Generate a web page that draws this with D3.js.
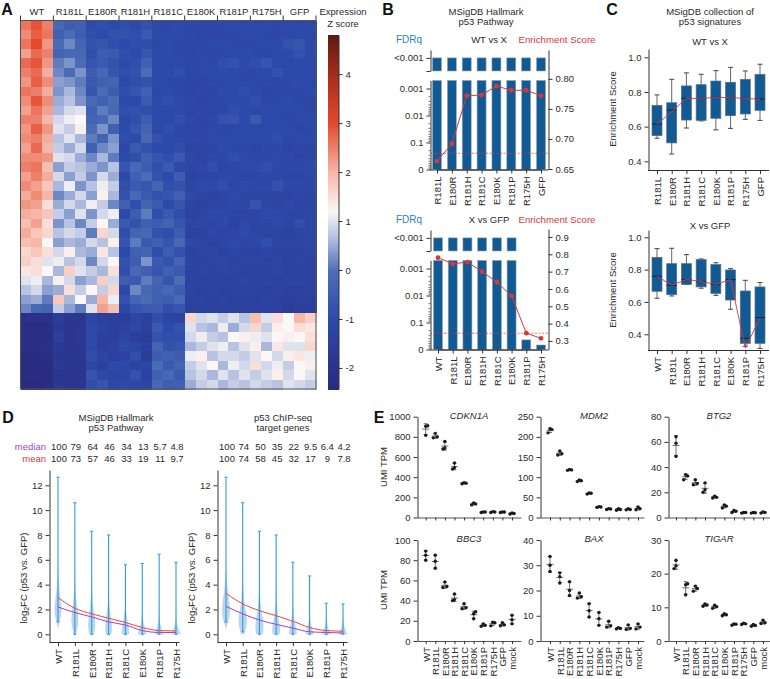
<!DOCTYPE html>
<html>
<head>
<meta charset="utf-8">
<script src="https://cdn.jsdelivr.net/npm/d3@7"></script>
<style>
  html,body{margin:0;padding:0;background:#fff}
  svg{display:block}
  text{font-family:"Liberation Sans",Arial,sans-serif;fill:#2a2a2a}
  .axis path,.axis line{stroke:#333;stroke-width:1}
  .axis text{font-size:9.5px;fill:#2a2a2a;font-family:"Liberation Sans",Arial,sans-serif}
</style>
</head>
<body>
<svg id="fig" width="770" height="679"></svg>
<script>
const heatGroups = ["WT","R181L","E180R","R181H","R181C","E180K","R181P","R175H","GFP"]
const zTicks = [4,3,2,1,0,-1,-2]

// heatmap rows, top block then bottom block (27 columns, 3 per group)
const heatTop = [
[2.6,2.9,2.5,-.2,-.5,-.4,-1,-.9,-1,-.9,-1,-.8,-1.1,-1.1,-1,-1.1,-1.1,-1.1,-1.1,-1,-1.1,-1.1,-1,-1.1,-1,-1.1,-1],
[2.4,2.8,2.6,-.4,-.1,-.5,-.9,-1,-.8,-.8,-.9,-.6,-1,-1.1,-1,-1.1,-1.2,-1.1,-1.1,-1.1,-1,-1,-1.1,-1.1,-1.1,-1,-1.1],
[2.6,3,2.3,-.1,.2,-.3,-.8,-.7,-.9,-1,-.9,-.9,-1.1,-1,-1.1,-1.1,-1.1,-1,-1,-1.1,-1.1,-1.1,-1,-1,-.8,-.7,-1],
[2.2,2.7,2.5,-.3,-.2,-.2,-.9,-.5,-.6,-.9,-1,-.7,-1,-1,-1.1,-1.2,-1.1,-1.1,-1.1,-1,-1,-1.1,-1.1,-1,-1,-.8,-1],
[2.7,2.9,2.3,.1,.3,-.1,-.7,-.6,-.8,-1,-.9,-.4,-1.1,-1.1,-1,-1.1,-1,-1.1,-.9,-.8,-1,-.9,-.7,-1,-1.1,-1,-1.1],
[2.5,2.7,2.1,.2,-.1,.3,-.5,-.2,-.7,-.9,-.8,-.1,-1,-1,-.9,-1.2,-1.1,-1,-1,-1.1,-1.1,-1.1,-1,-.8,-1,-1.1,-1],
[2.3,2.8,2.4,.4,.3,.1,-.6,-.4,-.3,-1.1,-.9,-.8,-1,-1.1,-1.1,-1.2,-1.2,-1.1,-1.1,-1,-1.1,-1.1,-1.1,-1.1,-1.1,-1,-1.1],
[2.6,2.5,2.1,.3,.6,.2,-.7,-.1,-.5,-.9,-.7,-.4,-1.1,-1,-1.1,-1.2,-1.1,-1.2,-1,-1.1,-.9,-1,-1.2,-1.1,-1.1,-1.1,-1],
[2.4,2.9,2.4,.5,.7,.3,-.2,-.4,-.1,-1,-1,-.6,-1,-.9,-1,-1.1,-1.2,-1.1,-1.1,-1,-1,-.9,-1.1,-1.1,-1,-1.1,-1.1],
[2.2,2.6,2.2,.6,.9,1,-.4,.1,-.2,-.9,-.8,-.9,-1.1,-1.1,-1,-1.2,-1.1,-1.2,-1.1,-.9,-1,-1.1,-1,-1,-1.1,-1,-1.1],
[2.5,2.5,2,.9,1.1,1.2,-.3,-.2,.2,-1.1,-.9,-.5,-1,-1,-.9,-1.1,-1.2,-1.1,-.8,-.7,-1,-.6,-1,-1.1,-1.1,-1.1,-1],
[2.3,2.8,2.3,1,.8,1.3,-.1,.3,-.4,-1,-.7,-.3,-1.1,-.9,-1.1,-1.2,-1.2,-1.1,-1.1,-1.1,-1.1,-1.1,-1.1,-1,-1,-1.2,-1.1],
[2.4,2.5,2.1,.7,1,.6,.1,-.3,.3,-.9,-1,-.2,-.8,-1,-1.1,-1.1,-1.1,-1,-1.1,-1,-1,-1,-1,-.9,-1.1,-1,-1],
[2.2,2.7,2,.8,.5,.9,-.4,.2,.4,-1.1,-.6,-.8,-1,-1.1,-.9,-1.2,-1.2,-1.2,-1,-1.1,-1.1,-1.2,-1.1,-1.1,-1.2,-1.1,-1.2],
[2.4,2.4,2.3,1,.9,.5,.2,.6,.1,-1,-.9,-.4,-.7,-.9,-.6,-1.1,-1.2,-1.1,-1.1,-.9,-1,-1.1,-1.1,-1,-1.1,-1.2,-1.1],
[2.5,2.6,1.9,.4,.8,.7,.5,.3,.7,-.7,-.2,-.5,-.9,-.6,-1,-1.2,-1.1,-.9,-1.2,-1.1,-1.1,-1,-.9,-1.1,-1.1,-1.1,-1],
[2.2,2.5,2.1,.9,.4,.8,.3,.9,.5,-1.1,-.4,-.1,-.8,-1,-.5,-1.3,-1.2,-1.2,-1.1,-1.1,-1.2,-1.2,-1.1,-1.1,-1.2,-1.2,-1.1],
[2.4,2.2,1.8,.6,1.1,.3,.7,1.1,.8,-.9,-.6,-.7,-.3,-.9,-.8,-1.2,-1,-1.1,-.9,-1.2,-1,-1.1,-1.1,-.8,-1.1,-1.1,-1.1],
[2.1,2.4,2,.2,.5,.9,.4,1.3,.6,-.8,-.2,-.6,-.8,-.7,-.4,-1,-1.2,-1.3,-1.2,-1,-1.2,-1.2,-1.2,-1.2,-1.2,-1.1,-1.2],
[2.3,2.2,1.5,.5,.9,.6,1.1,.8,.2,-.4,-.9,-.3,-.6,-1,-.7,-1.2,-1.3,-1.2,-1.2,-1.1,-1.1,-.7,-1.1,-1.2,-1.1,-1.2,-1.2],
[2.1,2,1.8,.8,.4,1,.3,.9,1.1,-1,-.5,.1,-.9,-.6,-.9,-1.3,-1.2,-1.1,-1.1,-1.2,-1.2,-1.2,-1,-1.1,-1.2,-1.2,-1.1],
[1.9,2.2,1.5,.3,.7,.2,.8,1.2,.5,-.6,-.8,-.4,-.5,-.3,-.7,-1.2,-1.1,-1.2,-1,-1.3,-1.1,-1.2,-1.2,-1,-1.2,-.9,-1.2],
[2.1,1.8,1.6,.7,.9,.8,.1,1.6,.9,-.9,-.3,-.2,-.8,-.9,-.5,-1.3,-1.3,-1.1,-1.2,-1.2,-1,-1.2,-1.2,-1.2,-1.3,-1.2,-1.2],
[1.9,2,1.2,.4,.6,.5,.9,.7,1.3,-.7,.1,-.6,-.4,-.7,-.2,-1.1,-1.2,-1.3,-1.2,-1,-1.2,-1.1,-.9,-1.2,-1.2,-1.2,-1.1],
[1.6,1.8,1.5,.9,1.3,.6,.5,1.4,.7,-1,-.4,-.3,-.9,-.5,-.8,-1.3,-1.2,-1.2,-1.3,-1.2,-1.3,-1.3,-1.2,-1.3,-1.3,-1.3,-1.2],
[1.7,1.5,1,1.1,.7,.9,.2,.9,1.2,-.8,-.5,.3,-.6,-.8,-.3,-1.2,-1.3,-1.2,-1.1,-1.3,-1.2,-1.2,-1.3,-1.2,-1.3,-1.2,-1.3],
[1.4,1.5,1.2,.6,1.7,1,.8,.6,1.5,-.9,-.2,-.4,-.7,-.4,-.6,-1.3,-1.2,-1.3,-1.2,-1.2,-1.3,-1.3,-1.3,-1.2,-1.3,-1.3,-1.3],
[1,1.1,.6,1.3,.9,.4,.6,1.7,.9,-.5,-.6,.1,-.3,-.7,-.1,-1.3,-1.3,-1.3,-1.3,-1.3,-1.2,-1.3,-1.3,-1.3,-1.3,-1.3,-1.3],
[.7,.9,.4,.5,1.5,.8,1.2,.8,1.6,-1,.2,-.2,-.4,-.2,-.5,-1.3,-1.4,-1.3,-1.4,-1.3,-1.3,-1.3,-1.4,-1.3,-1.4,-1.4,-1.3],
[.4,.5,.1,1.8,.6,1.2,.5,2,1.1,-.8,-.3,-.1,-.4,-.5,-.2,-1.3,-1.3,-1.4,-1.3,-1.4,-1.4,-1.4,-1.3,-1.4,-1.5,-1.4,-1.4],
[.2,-.2,-.3,.8,.4,.1,1,2.2,1.9,-1.1,-.7,-.6,-.5,-.9,-.7,-1.4,-1.4,-1.4,-1.4,-1.4,-1.4,-1.4,-1.4,-1.4,-1.6,-1.5,-1.5]
]
const heatBottom = [
[-2.1,-2.1,-2.1,-1.6,-1.8,-1.8,-1.2,-1.4,-1.4,-1.5,-1.2,-1.4,-.9,-1.2,-1.3,1.6,.9,1,.8,1,.7,1.9,1,1.5,1.2,2,1.7],
[-2.2,-2.2,-2.2,-1.7,-1.9,-1.8,-1,-1.3,-1.5,-1.3,-1.1,-1.4,-.6,-1,-.8,1,.7,.6,1.1,.5,.9,1.6,.8,1.3,1.2,1.5,1.4],
[-2.2,-2.2,-2.2,-1.5,-1.9,-1.7,-1.1,-1.4,-1.5,-1.2,-1.5,-1.6,-.8,-.9,-.9,.9,1.1,.8,.7,1.2,1.3,1.1,1,1.2,1.3,1.2,1.5],
[-2.2,-2.2,-2.1,-1.7,-1.8,-1.8,-1,-1.5,-1.3,-1,-1.2,-1.4,-.3,-.8,-.7,.6,.8,1,1.1,.7,1,1.3,.6,1.4,1,1,1.6],
[-2.3,-2.3,-2.2,-1.8,-1.9,-1.9,-.9,-1.2,-1.4,-1.3,-.9,-1.6,-.5,-.4,-.5,1.1,1.3,.7,.9,.9,.8,1,1.2,.9,1.3,1.4,1.1],
[-2.3,-2.3,-2.3,-1.7,-1.8,-1.8,-1.2,-1.4,-1,-1.1,-1.3,-1.2,-.1,-.6,-.3,.8,1,1.2,.6,1.1,.9,1.5,.9,1.1,.8,1.2,1.3],
[-2.3,-2.3,-2.3,-1.9,-1.9,-1.9,-.7,-1.1,-1.2,-1.2,-.8,-1.3,-.4,-.2,-.6,.7,.9,.6,1,.7,1,.8,1,1.3,.9,1.2,1],
[-2.4,-2.4,-2.3,-1.8,-1.9,-1.9,-.9,-.7,-1.1,-1,-1.1,-1.2,-.2,-.5,-.4,.5,.8,.9,.6,.8,.7,.9,.8,.7,1,.9,.8]
]
const heatRows = heatTop.concat(heatBottom)

// panel B
const catsWtX = ["R181L","E180R","R181H","R181C","E180K","R181P","R175H","GFP"]
const catsXGfp = ["WT","R181L","E180R","R181H","R181C","E180K","R181P","R175H"]
const fdrWtX = [0.0005,0.0005,0.0005,0.0005,0.0005,0.0005,0.0005,0.0005]
const fdrXGfp = [0.0005,0.0005,0.0005,0.0005,0.0005,0.0005,0.44,0.68]
const esWtX = [.663,.692,.772,.773,.788,.781,.781,.772]
const esXGfp = [.78,.745,.755,.70,.64,.56,.345,.315]

// panel C: [low, q1, median, q3, high]
const boxWtX = [[.533,.548,.615,.723,.783],[.442,.506,.696,.738,.873],[.592,.638,.763,.835,.91],[.633,.636,.763,.842,.902],
  [.581,.648,.769,.863,.923],[.59,.663,.767,.856,.942],[.642,.673,.763,.873,.921],[.636,.694,.76,.902,.96]]
const boxXGfp = [[.623,.666,.759,.876,.93],[.637,.645,.703,.837,.932],[.709,.709,.738,.837,.893],[.685,.693,.726,.862,.866],
  [.641,.652,.709,.831,.843],[.555,.612,.738,.798,.806],[.326,.344,.375,.668,.734],[.313,.344,.503,.693,.72]]
const lineWtX = [.615,.685,.763,.763,.769,.767,.763,.758]
const lineXGfp = [.76,.703,.74,.726,.709,.738,.315,.5]

// panel D
const medianHallmark = ["100","79","64","46","34","13","5.7","4.8"]
const meanHallmark = ["100","73","57","46","33","19","11","9.7"]
const medianChip = ["100","74","50","35","22","9.5","6.4","4.2"]
const meanChip = ["100","74","58","45","32","17","9","7.8"]
const highHallmark = [12.65,10.6,8.3,8.0,5.6,5.7,6.45,5.8]
const lowHallmark = [1,0,0,0,0,0,0,0]
const highChip = [12.65,10.6,8.3,8.0,5.8,4.7,2.5,2.45]
const lowChip = [1,.2,0,0,0,0,0,0]
const medLineHallmark = [2.2,1.75,1.4,1.0,.75,.3,.15,.15]
const meanLineHallmark = [2.95,2.1,1.65,1.3,.95,.55,.3,.27]
const medLineChip = [2.25,1.65,1.15,.8,.5,.2,.15,.1]
const meanLineChip = [3.3,2.45,1.9,1.5,1.05,.55,.3,.25]
const violinLevels = [0,.5,1,1.5,2,2.5,3,4,5,6]
const violinHallmark = [
  [0,0,.35,.7,.8,.7,.5,.2,.05,0],[.25,.6,.8,.75,.6,.4,.25,.1,0,0],[.55,.8,.8,.65,.4,.25,.15,.05,0,0],[.6,.8,.7,.5,.3,.15,.1,.05,0,0],
  [.8,.8,.5,.3,.15,.1,.05,0,0,0],[1,.6,.25,.1,.05,.03,0,0,0,0],[1,.5,.15,.05,.03,0,0,0,0,0],[1,.5,.15,.05,.03,0,0,0,0,0]]
const violinChip = [
  [0,0,.5,.85,.9,.8,.6,.25,.05,0],[.3,.8,1,.85,.6,.4,.25,.1,0,0],[.7,.95,.85,.6,.4,.25,.15,.05,0,0],[.8,.9,.65,.4,.25,.15,.1,0,0,0],
  [.9,.75,.4,.2,.1,.05,.03,0,0,0],[1,.5,.2,.08,.03,0,0,0,0,0],[1,.4,.1,.03,0,0,0,0,0,0],[1,.35,.08,.03,0,0,0,0,0,0]]

// panel E, three replicates per condition
const geneCats = ["WT","R181L","E180R","R181H","R181C","E180K","R181P","R175H","GFP","mock"]
const cdkn1a = [[815,905,910],[790,800,835],[680,690,755],[480,495,540],[335,340,345],[125,135,145],[50,55,55],[50,55,58],[50,55,55],[35,40,45]]
const mdm2 = [[210,218,220],[155,158,165],[117,118,119],[89,91,93],[58,60,61],[25,26,27],[20,21,22],[18,20,22],[19,20,22],[19,22,26]]
const btg2 = [[48.5,59,64],[30,33,34],[26,27,30],[20,22,27.5],[15.5,16,17],[7.5,9,10],[4,5,5.5],[3.5,4,4],[3.5,3.8,4],[3.5,4,4.5]]
const bbc3 = [[80,85,89],[72,79,85],[53,54,58.5],[40,41,46.5],[32,33,37],[22,27,29],[14.5,15.5,17],[15,18,18.5],[15,16,18],[17,21,25.5]]
const bax = [[27.5,30,33.5],[23,25.5,27],[18,20,23.5],[17,17.5,19],[9.5,12,14.8],[6.2,8.8,11.3],[5.5,6,7.8],[4.8,5,5.3],[4.6,5,6.4],[4.8,5.5,6.8]]
const tigar = [[21.5,22.3,24],[13.7,16.7,17],[14.8,15.6,16.3],[10.3,10.7,11],[9.7,10.2,10.6],[7.5,7.8,8.1],[4.7,5,5.1],[4.9,5.1,5.3],[4.4,4.6,4.9],[5.2,5.4,6.2]]

const RED = "#d8383c", BAR = "#125a94", LINKBLUE = "#2f7fb8"
const svg = d3.select("#fig")

function label(txt, x, y, opts = {}){
  return svg.append("text").attr("x",x).attr("y",y)
    .attr("text-anchor",opts.anchor || "middle")
    .attr("font-size",opts.size || 9.5)
    .attr("font-weight",opts.weight || null)
    .attr("font-style",opts.style || null)
    .style("fill",opts.fill || "#2a2a2a")
    .text(txt)
}

function yTitle(x, y, txt){
  return svg.append("text").attr("transform",`translate(${x},${y}) rotate(-90)`)
    .attr("text-anchor","middle").attr("font-size",9.5).text(txt)
}

function bottomAxis(scale, y, showLabels = true, size = 4){
  const g = svg.append("g").attr("class","axis").attr("transform",`translate(0,${y})`)
    .call(d3.axisBottom(scale).tickSize(size).tickSizeOuter(0))
  if(showLabels){
    g.selectAll("text").attr("transform","rotate(-90)")
      .attr("x",-size-3).attr("y",0).attr("dy","0.35em").attr("text-anchor","end")
  } else {
    g.selectAll("text").remove()
  }
  return g
}

function leftAxis(scale, x, values, format){
  return svg.append("g").attr("class","axis").attr("transform",`translate(${x},0)`)
    .call(d3.axisLeft(scale).tickValues(values).tickFormat(format || (d=>d)).tickSize(4).tickSizeOuter(0))
}

/* ---------- A: heatmap ---------- */
const zColor = d3.scaleLinear()
  .domain([-2.43,-1,0,.6,1.2,2,3,4,4.8])
  .range(["#2a2a7e","#2d4aaa","#4e6fb6","#aab8de","#fbf7f6","#f6b7a8","#e4492e","#a52c1c","#5f1a10"])

const heatX = d3.scaleBand().domain(d3.range(27)).range([20.5,316])
const heatY = d3.scaleBand().domain(d3.range(heatRows.length)).range([20.5,389])
const heat = svg.append("g").attr("shape-rendering","crispEdges")
heatRows.forEach((row,r)=>{
  heat.selectAll(null).data(row).join("rect")
    .attr("x",(d,i)=>heatX(i)).attr("y",heatY(r))
    .attr("width",heatX.bandwidth()+.5).attr("height",heatY.bandwidth()+.5)
    .attr("fill",d=>zColor(d))
})
svg.append("rect").attr("x",20.5).attr("y",20.5).attr("width",295.5).attr("height",368.5)
  .attr("fill","none").attr("stroke","#555")

const heatGroupX = d3.scaleBand().domain(heatGroups).range([20.5,316])
svg.selectAll(null).data(heatGroups.concat("end")).join("line")
  .attr("x1",d=>d=="end"?316:heatGroupX(d)).attr("x2",d=>d=="end"?316:heatGroupX(d))
  .attr("y1",15.5).attr("y2",20.5).attr("stroke","#333")
heatGroups.forEach(g=>label(g,heatGroupX(g)+heatGroupX.bandwidth()/2,15,{size:9.5}))

label("Expression",343,15,{size:9.5})
label("Z score",343,27,{size:9.5})
const zScale = d3.scaleLinear().domain([-2.43,4.8]).range([389,35])
svg.append("g").attr("shape-rendering","crispEdges").selectAll(null)
  .data(d3.range(35,389)).join("rect")
  .attr("x",327.5).attr("width",11).attr("y",d=>d).attr("height",1.5)
  .attr("fill",d=>zColor(zScale.invert(d)))
svg.append("g").attr("class","axis").attr("transform","translate(338.5,0)")
  .call(d3.axisRight(zScale).tickValues(zTicks).tickFormat(d=>d).tickSize(4).tickSizeOuter(0))
  .call(g=>g.select(".domain").attr("stroke","#888"))

/* ---------- B: FDR bars + ES line ---------- */
function fdrPanel(cats, fdr, es, layout){
  const x = d3.scalePoint().domain(cats).range(layout.xRange)
  const q = d3.scaleLog().domain([1,0.0005]).range([layout.zero,layout.zero-layout.decade*3.3])
  const capped = d3.scaleLinear().domain([0,1.6]).range([layout.capBase,layout.capBase-21])
  const es2y = d3.scaleLinear().domain(layout.esDomain).range(layout.esRange)
  const barW = 9

  label("FDRq",409,layout.head,{size:10,fill:LINKBLUE})
  label(layout.name,489,layout.head,{size:9.5})
  label("Enrichment Score",557,layout.head,{size:9.7,fill:RED})

  svg.selectAll(null).data(cats).join("rect")
    .attr("x",d=>x(d)-barW/2).attr("width",barW)
    .attr("y",(d,i)=>q(fdr[i])).attr("height",(d,i)=>q(1)-q(fdr[i]))
    .attr("fill",BAR).attr("stroke","#9aa7b2").attr("stroke-width",.6)
  svg.selectAll(null).data(cats.filter((d,i)=>fdr[i]<0.001)).join("rect")
    .attr("x",d=>x(d)-barW/2).attr("width",barW)
    .attr("y",capped(1)).attr("height",capped(0)-capped(1))
    .attr("fill",BAR).attr("stroke","#9aa7b2").attr("stroke-width",.6)

  svg.append("line").attr("x1",430).attr("x2",548).attr("y1",q(.25)).attr("y2",q(.25))
    .attr("stroke",RED).attr("stroke-dasharray","2,1.5").attr("stroke-width",.7)

  // left axis in two pieces with a gap
  leftAxis(capped,430.5,[0,1],d=>d==1?"<0.001":"")
  leftAxis(q,430.5,[1,.1,.01,.001],d=>d==1?"0":d)
  const minor = [.2,.3,.4,.5,.6,.7,.8,.9,.02,.03,.04,.05,.06,.07,.08,.09,.002,.003,.004,.005,.006,.007,.008,.009]
  svg.append("g").selectAll(null).data(minor).join("line")
    .attr("x1",428.5).attr("x2",430.5).attr("y1",d=>q(d)).attr("y2",d=>q(d))
    .attr("stroke","#333").attr("stroke-width",.7)

  svg.append("g").attr("class","axis").attr("transform","translate(548.5,0)")
    .call(d3.axisRight(es2y).tickValues(layout.esTicks).tickFormat(layout.esFormat).tickSize(4).tickSizeOuter(0))

  bottomAxis(x,layout.zero)
  svg.append("line").attr("x1",430).attr("x2",548.5).attr("y1",layout.zero+.5).attr("y2",layout.zero+.5).attr("stroke","#333")

  const line = d3.line().x((d,i)=>x(cats[i])).y(d=>es2y(d))
  svg.append("path").attr("d",line(es)).attr("fill","none").attr("stroke",RED).attr("stroke-width",1)
  svg.selectAll(null).data(es).join("circle")
    .attr("cx",(d,i)=>x(cats[i])).attr("cy",d=>es2y(d)).attr("r",2.4).attr("fill",RED)
}

label("MSigDB Hallmark",486,15)
label("p53 Pathway",486,25)
fdrPanel(catsWtX,fdrWtX,esWtX,{
  name:"WT vs X",head:43,xRange:[437,541],zero:169.5,decade:27,capBase:71,
  esDomain:[.65,.848],esRange:[169,50],esTicks:[.65,.7,.75,.8],esFormat:d3.format(".2f")
})
fdrPanel(catsXGfp,fdrXGfp,esXGfp,{
  name:"X vs GFP",head:223,xRange:[438,541],zero:349.5,decade:27,capBase:251,
  esDomain:[.25,.946],esRange:[349.6,229],esTicks:[.3,.4,.5,.6,.7,.8,.9],esFormat:d3.format(".1f")
})

/* ---------- C: box plots ---------- */
function boxPanel(cats, boxes, line, layout){
  const x = d3.scalePoint().domain(cats).range([657,760])
  const y = d3.scaleLinear().domain([.4,1]).range(layout.yRange)
  const boxW = 10

  label(layout.name,710,layout.head)
  leftAxis(y.copy().domain([y.invert(layout.base),y.invert(layout.top)]).range([layout.base,layout.top]),648.5,[.4,.6,.8,1],d3.format(".1f"))
  svg.append("line").attr("x1",648).attr("x2",769).attr("y1",layout.base+.5).attr("y2",layout.base+.5).attr("stroke","#333")
  bottomAxis(d3.scalePoint().domain(cats).range([657,760]),layout.base).select(".domain").remove()
  yTitle(616,layout.mid,"Enrichment Score")

  const g = svg.selectAll(null).data(boxes).join("g")
    .attr("transform",(d,i)=>`translate(${x(cats[i])},0)`)
  g.append("line").attr("y1",d=>y(d[0])).attr("y2",d=>y(d[4])).attr("stroke","#666")
  g.selectAll("line.cap").data(d=>[d[0],d[4]]).join("line").attr("class","cap")
    .attr("x1",-boxW/4).attr("x2",boxW/4).attr("y1",d=>y(d)).attr("y2",d=>y(d)).attr("stroke","#444")
  g.append("rect").attr("x",-boxW/2).attr("width",boxW)
    .attr("y",d=>y(d[3])).attr("height",d=>y(d[1])-y(d[3]))
    .attr("fill",BAR).attr("stroke","#5a6f80").attr("stroke-width",.7)
  g.append("line").attr("x1",-boxW/2).attr("x2",boxW/2)
    .attr("y1",d=>y(d[2])).attr("y2",d=>y(d[2])).attr("stroke","#0a2a44")

  svg.append("path").attr("fill","none").attr("stroke",RED).attr("stroke-width",.9)
    .attr("d",d3.line().x((d,i)=>x(cats[i])).y(d=>y(d))(line))
}

label("MSigDB collection of",710,15)
label("p53 signatures",710,25)
boxPanel(catsWtX,boxWtX,lineWtX,{name:"WT vs X",head:45,yRange:[161.3,57.3],base:170,top:49,mid:109})
boxPanel(catsXGfp,boxXGfp,lineXGfp,{name:"X vs GFP",head:229,yRange:[334.3,237.3],base:350,top:230,mid:290})

/* ---------- D: violins ---------- */
function violinPanel(high, low, meds, means, widths, medTxt, meanTxt, layout){
  const x = d3.scalePoint().domain(catsXGfp).range(layout.xRange)
  const y = d3.scaleLinear().domain([0,12]).range([634.3,485.3])
  const dens = d3.scaleLinear().domain([0,1]).range([0,layout.maxW])

  label(layout.t1,layout.titleX,421)
  label(layout.t2,layout.titleX,431)

  medTxt.forEach((t,i)=>label(t,x(catsXGfp[i])+1,450))
  meanTxt.forEach((t,i)=>label(t,x(catsXGfp[i])+1,462))

  leftAxis(y.copy().domain([y.invert(642),y.invert(470)]).range([642,470]),layout.axisX,[0,2,4,6,8,10,12])
  svg.append("line").attr("x1",layout.axisX).attr("x2",layout.axisX+130).attr("y1",642.5).attr("y2",642.5).attr("stroke","#333")
  bottomAxis(x,642).select(".domain").remove()

  svg.append("text").attr("transform",`translate(${layout.axisX-23},578) rotate(-90)`)
    .attr("text-anchor","middle").attr("font-size",9.5)
    .call(t=>{
      t.append("tspan").text("log")
      t.append("tspan").attr("font-size",7).attr("dy",2.5).text("2")
      t.append("tspan").attr("dy",-2.5).text("FC (p53 vs. GFP)")
    })

  const area = d3.area().curve(d3.curveBasis)
    .y((d,i)=>y(violinLevels[i])).x0(d=>-dens(d)).x1(d=>dens(d))
  widths.forEach((w,i)=>{
    const g = svg.append("g").attr("transform",`translate(${x(catsXGfp[i])},0)`)
    g.append("path").attr("d",area(w)).attr("fill","#bcd5ee")
    g.append("line").attr("y1",y(low[i])).attr("y2",y(high[i])).attr("stroke","#2c9fd2").attr("stroke-width",1.1)
    g.selectAll(null).data([low[i],high[i]]).join("line")
      .attr("x1",-1.6).attr("x2",1.6).attr("y1",d=>y(d)).attr("y2",d=>y(d)).attr("stroke","#2c9fd2")
  })

  const curve = d3.line().curve(d3.curveMonotoneX).x((d,i)=>x(catsXGfp[i])).y(d=>y(d))
  svg.append("path").attr("d",curve(meds)).attr("fill","none").attr("stroke","#a63fc6").attr("stroke-width",1)
  svg.append("path").attr("d",curve(means)).attr("fill","none").attr("stroke","#f0483a").attr("stroke-width",1)
}

label("median",46,450,{anchor:"end",fill:"#a63fc6"})
label("mean",46,462,{anchor:"end",fill:"#e0383c"})
violinPanel(highHallmark,lowHallmark,medLineHallmark,meanLineHallmark,violinHallmark,medianHallmark,meanHallmark,
  {xRange:[58,176],axisX:49.5,titleX:116,t1:"MSigDB Hallmark",t2:"p53 Pathway",maxW:4.5})
violinPanel(highChip,lowChip,medLineChip,meanLineChip,violinChip,medianChip,meanChip,
  {xRange:[226,343],axisX:217.5,titleX:283,t1:"p53 ChIP-seq",t2:"target genes",maxW:4.5})

/* ---------- E: dot plots ---------- */
function genePanel(name, reps, maxY, ticks, layout){
  const x = d3.scalePoint().domain(geneCats).range(layout.xRange)
  const y = d3.scaleLinear().domain([0,maxY]).range([layout.base,layout.top])

  label(name,layout.titleX,layout.top+2,{style:"italic"})
  leftAxis(y,layout.axisX,ticks)
    .call(g=>g.select(".domain").attr("stroke","#555"))
  svg.append("line").attr("x1",layout.axisX).attr("x2",layout.axisX+104).attr("y1",layout.base+.5).attr("y2",layout.base+.5).attr("stroke","#555")
  bottomAxis(x,layout.base,layout.showCats,3).select(".domain").remove()

  reps.forEach((r,i)=>{
    const cx = x(geneCats[i])
    const m = d3.mean(r), sd = d3.deviation(r)
    const g = svg.append("g").attr("transform",`translate(${cx},0)`)
    g.append("line").attr("y1",y(m-sd)).attr("y2",y(m+sd)).attr("stroke","#333").attr("stroke-width",.7)
    g.selectAll(null).data([m-sd,m,m+sd]).join("line")
      .attr("x1",(d,j)=>j==1?-3.5:-2).attr("x2",(d,j)=>j==1?3.5:2)
      .attr("y1",d=>y(d)).attr("y2",d=>y(d)).attr("stroke","#333").attr("stroke-width",.7)
    // replicates sitting on the same pixel get pushed apart sideways
    const tight = Math.abs(y(r[2])-y(r[0]))<6
    g.selectAll(null).data(r).join("circle")
      .attr("cx",(d,j)=>tight ? [-2,2,0][j] : (Math.abs(y(d)-y(r[1]))<3 && j!=1 ? (j==0?-2:2) : 0))
      .attr("cy",d=>y(d)).attr("r",1.7).attr("fill","#1a1a1a")
  })
}

const colX = [
  {axisX:417.5,xRange:[425.7,512],titleX:469},
  {axisX:540.5,xRange:[550,638],titleX:594},
  {axisX:668.5,xRange:[676,763],titleX:719}
]
const row1 = {base:517.5,top:416.7,showCats:false}
const row2 = {base:641,top:540,showCats:true}
genePanel("CDKN1A",cdkn1a,1000,[0,200,400,600,800,1000],{...colX[0],...row1})
genePanel("MDM2",mdm2,250,[0,50,100,150,200,250],{...colX[1],...row1})
genePanel("BTG2",btg2,80,[0,20,40,60,80],{...colX[2],...row1})
genePanel("BBC3",bbc3,100,[0,20,40,60,80,100],{...colX[0],...row2})
genePanel("BAX",bax,40,[0,10,20,30,40],{...colX[1],...row2})
genePanel("TIGAR",tigar,30,[0,10,20,30],{...colX[2],...row2})
yTitle(387,467,"UMI TPM")
yTitle(387,590,"UMI TPM")

/* ---------- panel letters ---------- */
label("A",7,15,{size:16,weight:"bold",fill:"#111"})
label("B",388,15,{size:16,weight:"bold",fill:"#111"})
label("C",612,15,{size:16,weight:"bold",fill:"#111"})
label("D",8,423,{size:16,weight:"bold",fill:"#111"})
label("E",379,423,{size:16,weight:"bold",fill:"#111"})
</script>
</body>
</html>
